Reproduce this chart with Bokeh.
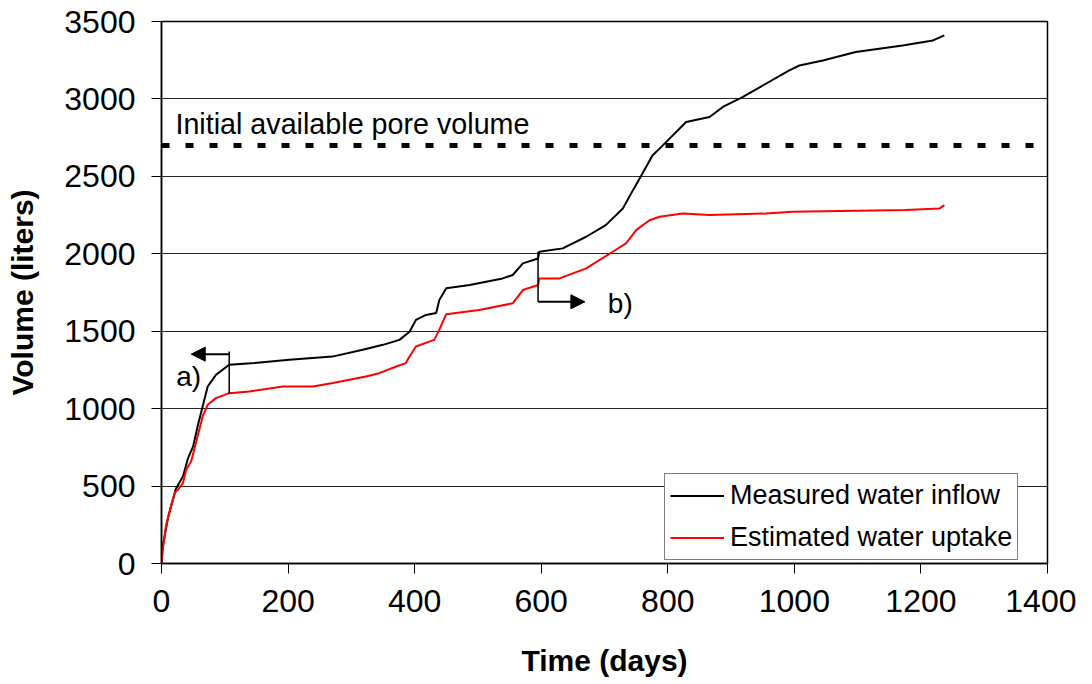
from bokeh.plotting import figure
from bokeh.models import (Range1d, SingleIntervalTicker, Span, Arrow, NormalHead,
                          Legend, LegendItem, Label)
from bokeh.embed import file_html
from bokeh.resources import INLINE

# ---- data ----
inflow_days = [0, 1, 2, 10, 15, 23, 34, 42, 50, 57, 65, 73, 86, 107, 147, 202, 270, 318,
               350, 376, 392, 402, 418, 434, 439, 450, 487, 539, 555, 571, 595, 597, 634,
               671, 702, 729, 745, 760, 776, 787, 829, 866, 887, 918, 955, 992, 1008,
               1045, 1097, 1134, 1171, 1219, 1237]
inflow_vol = [0, 60, 111, 290, 370, 485, 563, 681, 756, 885, 1014, 1143, 1218, 1283, 1294,
              1315, 1336, 1380, 1412, 1444, 1497, 1573, 1605, 1617, 1702, 1777, 1798, 1841,
              1863, 1938, 1970, 2013, 2035, 2110, 2185, 2293, 2411, 2518, 2636, 2679, 2851,
              2883, 2948, 3012, 3098, 3184, 3216, 3248, 3303, 3324, 3345, 3378, 3410]

uptake_days = [0, 2, 7, 13, 21, 26, 34, 39, 47, 57, 65, 73, 86, 107, 139, 192, 239, 271,
               323, 344, 371, 386, 392, 402, 423, 431, 439, 450, 502, 555, 571, 595, 597,
               629, 671, 713, 734, 750, 771, 787, 824, 866, 955, 997, 1176, 1229, 1237]
uptake_vol = [0, 90, 240, 337, 456, 477, 520, 606, 660, 821, 950, 1025, 1068, 1100, 1111,
              1143, 1143, 1165, 1208, 1229, 1272, 1294, 1337, 1401, 1433, 1444, 1510, 1610,
              1637, 1680, 1766, 1798, 1841, 1841, 1906, 2013, 2067, 2153, 2217, 2239, 2260,
              2250, 2260, 2271, 2282, 2292, 2314]

pore_volume = 2700
series_labels = ["Measured water inflow", "Estimated water uptake"]
pore_label = "Initial available pore volume"

# annotation anchors (data units)
a_day, a_top, a_bottom, a_arrow_y, a_arrow_end = 107, 1369, 1100, 1352, 47
b_day, b_top, b_bottom, b_arrow_y, b_arrow_end = 595, 2013, 1690, 1690, 669

FONT = "Liberation Sans"

p = figure(width=1076, height=682, output_backend="svg", toolbar_location=None,
           x_range=Range1d(0, 1400), y_range=Range1d(0, 3500),
           min_border_left=161, min_border_right=29, min_border_top=21,
           min_border_bottom=119)

p.outline_line_color = "black"
p.outline_line_width = 1.5
p.background_fill_color = "white"
p.border_fill_color = "white"

p.xaxis.ticker = SingleIntervalTicker(interval=200)
p.yaxis.ticker = SingleIntervalTicker(interval=500)
for ax in (p.xaxis, p.yaxis):
    ax.major_tick_out = 10
    ax.major_tick_in = 0
    ax.minor_tick_line_color = None
    ax.axis_line_color = "black"
    ax.axis_line_width = 1.5
    ax.major_tick_line_color = "black"
    ax.major_tick_line_width = 1
    ax.major_label_text_font = FONT
    ax.major_label_text_font_size = "32px"
    ax.major_label_text_color = "black"
    ax.axis_label_text_font = FONT
    ax.axis_label_text_font_size = "30px"
    ax.axis_label_text_font_style = "bold"
    ax.axis_label_text_color = "black"

p.xaxis.major_label_standoff = 16
p.yaxis.major_label_standoff = 16
p.xaxis.axis_label = "Time (days)"
p.yaxis.axis_label = "Volume (liters)"
p.xaxis.axis_label_standoff = 29
p.yaxis.axis_label_standoff = 22

p.xgrid.grid_line_color = None
p.ygrid.grid_line_color = "black"
p.ygrid.grid_line_width = 1
p.ygrid.grid_line_alpha = 0.85

# pore volume dashed line
p.add_layout(Span(location=pore_volume, dimension="width", line_color="black",
                  line_width=5, line_dash="8 16"))
p.add_layout(Label(x=22, y=2836, text=pore_label, text_font=FONT,
                   text_font_size="28.7px", text_baseline="middle", text_color="black"))

# data lines
r_in = p.line(inflow_days, inflow_vol, line_color="black", line_width=2)
r_up = p.line(uptake_days, uptake_vol, line_color="red", line_width=2)

# annotation a)
p.segment(x0=[a_day], y0=[a_bottom], x1=[a_day], y1=[a_top], line_color="black", line_width=1.5)
p.add_layout(Arrow(x_start=a_day, y_start=a_arrow_y, x_end=a_arrow_end, y_end=a_arrow_y,
                   line_color="black", line_width=2,
                   end=NormalHead(size=14, fill_color="black", line_color="black")))
p.add_layout(Label(x=43, y=1208, text="a)", text_font=FONT, text_font_size="28px",
                   text_align="center", text_baseline="middle", text_color="black"))

# annotation b)
p.segment(x0=[b_day], y0=[b_bottom], x1=[b_day], y1=[b_top], line_color="black", line_width=1.5)
p.add_layout(Arrow(x_start=b_day, y_start=b_arrow_y, x_end=b_arrow_end, y_end=b_arrow_y,
                   line_color="black", line_width=2,
                   end=NormalHead(size=14, fill_color="black", line_color="black")))
p.add_layout(Label(x=725, y=1676, text="b)", text_font=FONT, text_font_size="28px",
                   text_align="center", text_baseline="middle", text_color="black"))

legend = Legend(items=[LegendItem(label=series_labels[0], renderers=[r_in]),
                       LegendItem(label=series_labels[1], renderers=[r_up])],
                location=(503, 3), orientation="vertical")
legend.label_text_font = FONT
legend.label_text_font_size = "27px"
legend.label_text_color = "black"
legend.glyph_width = 54
legend.glyph_height = 33
legend.label_height = 33
legend.label_standoff = 6
legend.spacing = 9
legend.padding = 5
legend.margin = 0
legend.border_line_color = "black"
legend.border_line_width = 1
legend.background_fill_color = "white"
legend.background_fill_alpha = 1
p.add_layout(legend, "center")

open("out.html", "w").write(file_html(p, INLINE))
